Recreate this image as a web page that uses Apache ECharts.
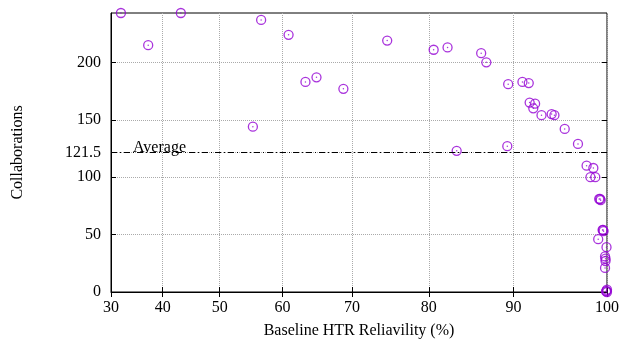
<!DOCTYPE html>
<html style="height: 100%">
   <head>
       <meta charset="utf-8">
   </head>
   <body style="height: 100%; margin: 0">
       <div id="container" style="width: 622px; height: 345px"></div>
       <script type="text/javascript" src="https://cdn.jsdelivr.net/npm/echarts@6/dist/echarts.min.js"></script>
       <script type="text/javascript">
        // baseline HTR reliability (%) and collaborations per point
        var reliability = [32.0, 37.3, 43.3, 56.7, 60.9, 63.4, 65.0, 68.8, 55.4, 74.7,
                           80.6, 82.3, 86.3, 86.9, 89.4, 91.0, 91.7, 91.8, 92.4, 92.2,
                           93.1, 94.2, 94.5, 95.6, 97.0, 83.4, 89.3, 97.9, 98.6, 98.3,
                           98.8, 99.2, 99.35, 99.3, 99.6, 99.55, 99.65, 99.1, 99.95, 99.8,
                           99.85, 99.85, 99.8, 100, 99.95, 100, 99.9];
        var collaborations = [243, 215, 243, 237, 224, 183, 187, 177, 144, 219,
                              211, 213, 208, 200, 181, 183, 182, 165, 164, 160,
                              154, 155, 154, 142, 129, 123, 127, 110, 108, 100,
                              100, 81, 80, 81, 54, 54, 53, 46, 39, 31,
                              29, 27, 21, 0, 1, 2, 0.5];
        var xTicks = [30, 40, 50, 60, 70, 80, 90, 100];
        var yTicks = [0, 50, 100, 121.5, 150, 200];
        var average = 121.5;

        // the x axis of the original is stretched toward 100
        var base = 1.104;
        function fx(v) { return Math.pow(base, v / 10); }
        function ifx(t) { return 10 * Math.log(t) / Math.log(base); }

        var points = reliability.map(function (r, i) {
            return [fx(r), collaborations[i]];
        });
        var xTickPos = xTicks.map(fx);

        var font = 'Liberation Serif';
        var purple = '#9400D3';

        function mirrorX() {
            return {
                type: 'value', position: 'top', min: fx(30), max: fx(100),
                axisLine: { show: false },
                axisTick: { show: true, inside: true, length: 5, customValues: xTickPos, lineStyle: { color: '#000' } },
                axisLabel: { show: false },
                splitLine: { show: false }
            };
        }
        function mirrorY() {
            return {
                type: 'value', position: 'right', min: 0, max: 243,
                axisLine: { show: false },
                axisTick: { show: true, inside: true, length: 5, customValues: yTicks, lineStyle: { color: '#000' } },
                axisLabel: { show: false },
                splitLine: { show: false }
            };
        }

        var myChart = echarts.init(document.getElementById('container'));
        var option = {
            animation: false,
            grid: {
                left: 111, right: 15, top: 13, bottom: 53,
                show: true, borderColor: '#000', borderWidth: 1
            },
            xAxis: [{
                type: 'value',
                min: fx(30),
                max: fx(100),
                name: 'Baseline HTR Reliavility (%)',
                nameLocation: 'middle',
                nameGap: 31,
                nameTextStyle: { fontFamily: font, fontSize: 16, color: '#000' },
                axisLine: { lineStyle: { color: '#000' } },
                axisTick: { inside: true, length: 5, customValues: xTickPos, lineStyle: { color: '#000' } },
                axisLabel: {
                    customValues: xTickPos,
                    fontFamily: font, fontSize: 16, color: '#000', margin: 8,
                    formatter: function (v) { return Math.round(ifx(v)); }
                },
                splitLine: { show: true, lineStyle: { color: '#aaa', type: 'dotted' } }
            }, mirrorX()],
            yAxis: [{
                type: 'value',
                min: 0,
                max: 243,
                name: 'Collaborations',
                nameLocation: 'middle',
                nameGap: 85,
                nameTextStyle: { fontFamily: font, fontSize: 16, color: '#000' },
                axisLine: { show: true, lineStyle: { color: '#000' } },
                axisTick: { show: true, inside: true, length: 5, customValues: yTicks, lineStyle: { color: '#000' } },
                axisLabel: {
                    customValues: yTicks,
                    fontFamily: font, fontSize: 16, color: '#000', margin: 10
                },
                splitLine: { show: true, lineStyle: { color: '#aaa', type: 'dotted' } }
            }, mirrorY()],
            series: [{
                type: 'scatter',
                data: points,
                symbol: 'circle',
                symbolSize: 9,
                itemStyle: { color: 'transparent', borderColor: purple, borderWidth: 1.3 },
                markLine: {
                    silent: true,
                    symbol: 'none',
                    data: [{ yAxis: average }],
                    lineStyle: { color: '#000', width: 1, type: [6, 3, 1, 3] },
                    label: {
                        position: 'insideStartTop',
                        formatter: 'Average',
                        fontFamily: font, fontSize: 16, color: '#000',
                        distance: [22, -3]
                    }
                }
            }, {
                type: 'scatter',
                data: points,
                symbol: 'circle',
                symbolSize: 1.5,
                itemStyle: { color: purple }
            }]
        };
        myChart.setOption(option);
       </script>
   </body>
</html>
